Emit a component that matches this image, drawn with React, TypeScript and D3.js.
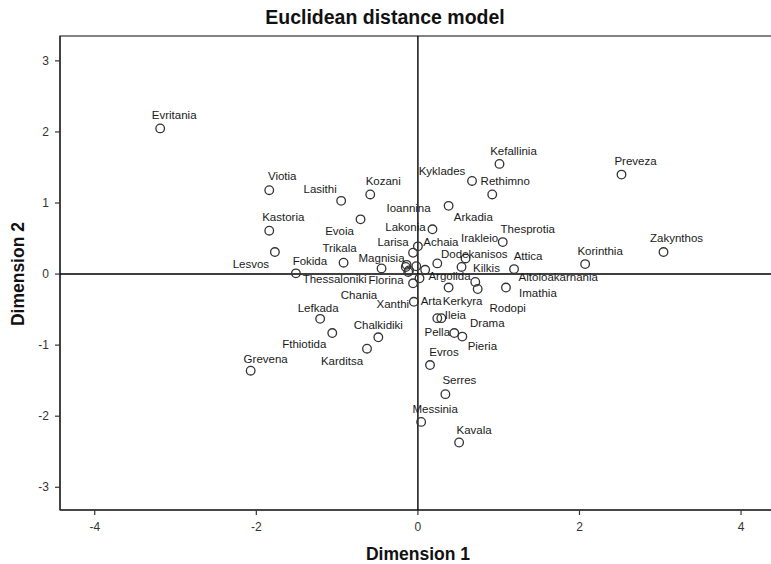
import React from "react";
import * as d3 from "d3";

// ---- data ----
const names = [
  "Evritania", "Viotia", "Lasithi", "Kozani", "Kastoria", "Evoia", "Trikala", "Lesvos", "Fokida", "Magnisia",
  "Kefallinia", "Kyklades", "Rethimno", "Ioannina", "Lakonia", "Thesprotia", "Achaia", "Larisa", "Korinthia", "Preveza",
  "Zakynthos", "Dodekanisos", "Kilkis", "Irakleio", "Attica", "Argolida", "Florina", "Imathia", "Ileia", "Pella",
  "Pieria", "Evros", "Serres", "Messinia", "Kavala", "Lefkada", "Fthiotida", "Chalkidiki", "Karditsa", "Grevena",
  "Xanthi", "Aitoloakarnania", "Rodopi", "Kerkyra", "Drama", "Arkadia", "Thessaloniki", "Chania", "Chios", "Samos", "Arta",
];
const dim1 = [
  -3.19, -1.84, -0.95, -0.59, -1.84, -0.71, -0.92, -1.77, -1.51, -0.45,
  1.01, 0.67, 0.92, 0.38, 0.18, 1.05, 0.0, -0.06, 2.07, 2.52,
  3.04, 0.24, 0.54, 0.59, 1.19, 0.02, -0.06, 1.09, 0.24, 0.45,
  0.55, 0.15, 0.34, 0.04, 0.51, -1.21, -1.06, -0.49, -0.63, -2.07,
  -0.05, 0.71, 0.74, 0.38, 0.29, -0.02, -0.14, -0.11, -0.15, 0.09, -0.12,
];
const dim2 = [
  2.05, 1.18, 1.03, 1.12, 0.61, 0.77, 0.16, 0.31, 0.01, 0.08,
  1.55, 1.31, 1.12, 0.96, 0.63, 0.45, 0.39, 0.3, 0.14, 1.4,
  0.31, 0.15, 0.1, 0.22, 0.07, -0.06, -0.13, -0.19, -0.62, -0.83,
  -0.88, -1.28, -1.69, -2.08, -2.37, -0.63, -0.83, -0.89, -1.05, -1.36,
  -0.39, -0.11, -0.21, -0.19, -0.62, 0.11, 0.13, 0.05, 0.1, 0.06, 0.03,
];
const unlabeled = ["Chios", "Samos"];
const xTicks = [-4, -2, 0, 2, 4];
const yTicks = [-3, -2, -1, 0, 1, 2, 3];

// ---- layout: label placement (pixel offsets from the marker) ----
const labelOffsets: Record<string, [number, number]> = {
  Evritania: [14, -13], Viotia: [13, -14], Lasithi: [-21, -12], Kozani: [13, -13], Kastoria: [14, -14],
  Evoia: [-21, 12], Trikala: [-4, -15], Lesvos: [-24, 12], Fokida: [14, -12], Magnisia: [0, -10],
  Kefallinia: [14, -13], Kyklades: [-30, -10], Rethimno: [13, -13], Ioannina: [-40, 2], Lakonia: [-27, -2],
  Thesprotia: [25, -13], Achaia: [23, -4], Larisa: [-20, -11], Korinthia: [15, -13], Preveza: [14, -14],
  Zakynthos: [13, -14], Dodekanisos: [37, -9], Kilkis: [25, 1], Irakleio: [14, -20], Attica: [14, -13],
  Argolida: [30, -2], Florina: [-27, -3], Imathia: [32, 5], Ileia: [18, -3], Pella: [-17, -1],
  Pieria: [20, 9], Evros: [14, -13], Serres: [14, -14], Messinia: [14, -13], Kavala: [15, -13],
  Lefkada: [-2, -11], Fthiotida: [-28, 11], Chalkidiki: [0, -12], Karditsa: [-25, 12], Grevena: [15, -12],
  Xanthi: [-21, 2], Aitoloakarnania: [83, -5], Rodopi: [30, 19], Kerkyra: [14, 13], Drama: [46, 5],
  Arkadia: [57, -49], Thessaloniki: [-72, 14], Chania: [-50, 24], Arta: [23, 29],
};

const W = 771;
const H = 564;
const left = 60, right = 775, top = 36, bottom = 510;

export default function App() {
  const x = d3.scaleLinear().domain([-4.43, 4.42]).range([left, right]);
  const y = d3.scaleLinear().domain([-3.32, 3.35]).range([bottom, top]);
  const pts = names.map((n, i) => ({ name: n, px: x(dim1[i]), py: y(dim2[i]) }));
  const axisColor = "#333";
  const font = "'Liberation Sans', Arial, sans-serif";

  return (
    <svg width={W} height={H} style={{ position: "absolute", left: 0, top: 0, background: "#fff" }}>
      <rect x={0} y={0} width={W} height={H} fill="#fff" />
      <text x={385} y={24} textAnchor="middle" fontFamily={font} fontWeight="bold" fontSize={19.5} fill="#111">
        Euclidean distance model
      </text>
      {/* frame */}
      <rect x={left} y={top} width={right - left} height={bottom - top} fill="none" stroke={axisColor} strokeWidth={1.2} />
      <line x1={left} x2={left} y1={top} y2={bottom} stroke={axisColor} strokeWidth={1.6} />
      <line x1={left} x2={right} y1={bottom} y2={bottom} stroke={axisColor} strokeWidth={1.6} />
      {/* reference lines */}
      <line x1={x(0)} x2={x(0)} y1={top} y2={bottom} stroke="#000" strokeWidth={1.4} />
      <line x1={left} x2={right} y1={y(0)} y2={y(0)} stroke="#000" strokeWidth={1.4} />
      {/* y ticks */}
      {yTicks.map((t) => (
        <g key={"y" + t}>
          <line x1={left - 5} x2={left} y1={y(t)} y2={y(t)} stroke={axisColor} strokeWidth={1.2} />
          <text x={left - 11} y={y(t)} dy="0.35em" textAnchor="end" fontFamily={font} fontSize={12} fill="#333">
            {t}
          </text>
        </g>
      ))}
      {/* x ticks */}
      {xTicks.map((t) => (
        <g key={"x" + t}>
          <line x1={x(t)} x2={x(t)} y1={bottom} y2={bottom + 5} stroke={axisColor} strokeWidth={1.2} />
          <text x={x(t)} y={bottom + 21} textAnchor="middle" fontFamily={font} fontSize={12} fill="#333">
            {t}
          </text>
        </g>
      ))}
      <text x={418} y={560} textAnchor="middle" fontFamily={font} fontWeight="bold" fontSize={17.5} fill="#111">
        Dimension 1
      </text>
      <text
        transform={`translate(24, ${y(0)}) rotate(-90)`}
        textAnchor="middle"
        fontFamily={font}
        fontWeight="bold"
        fontSize={17.5}
        fill="#111"
      >
        Dimension 2
      </text>
      {/* markers */}
      {pts.map((p) => (
        <circle key={p.name} cx={p.px} cy={p.py} r={4.3} fill="none" stroke="#333" strokeWidth={1.3} />
      ))}
      {/* labels */}
      {pts
        .filter((p) => !unlabeled.includes(p.name))
        .map((p) => {
          const o = labelOffsets[p.name] || [0, -12];
          return (
            <text
              key={"l" + p.name}
              x={p.px + o[0]}
              y={p.py + o[1]}
              dy="0.35em"
              textAnchor="middle"
              fontFamily={font}
              fontSize={11.5}
              fill="#1a1a1a"
            >
              {p.name}
            </text>
          );
        })}
    </svg>
  );
}
